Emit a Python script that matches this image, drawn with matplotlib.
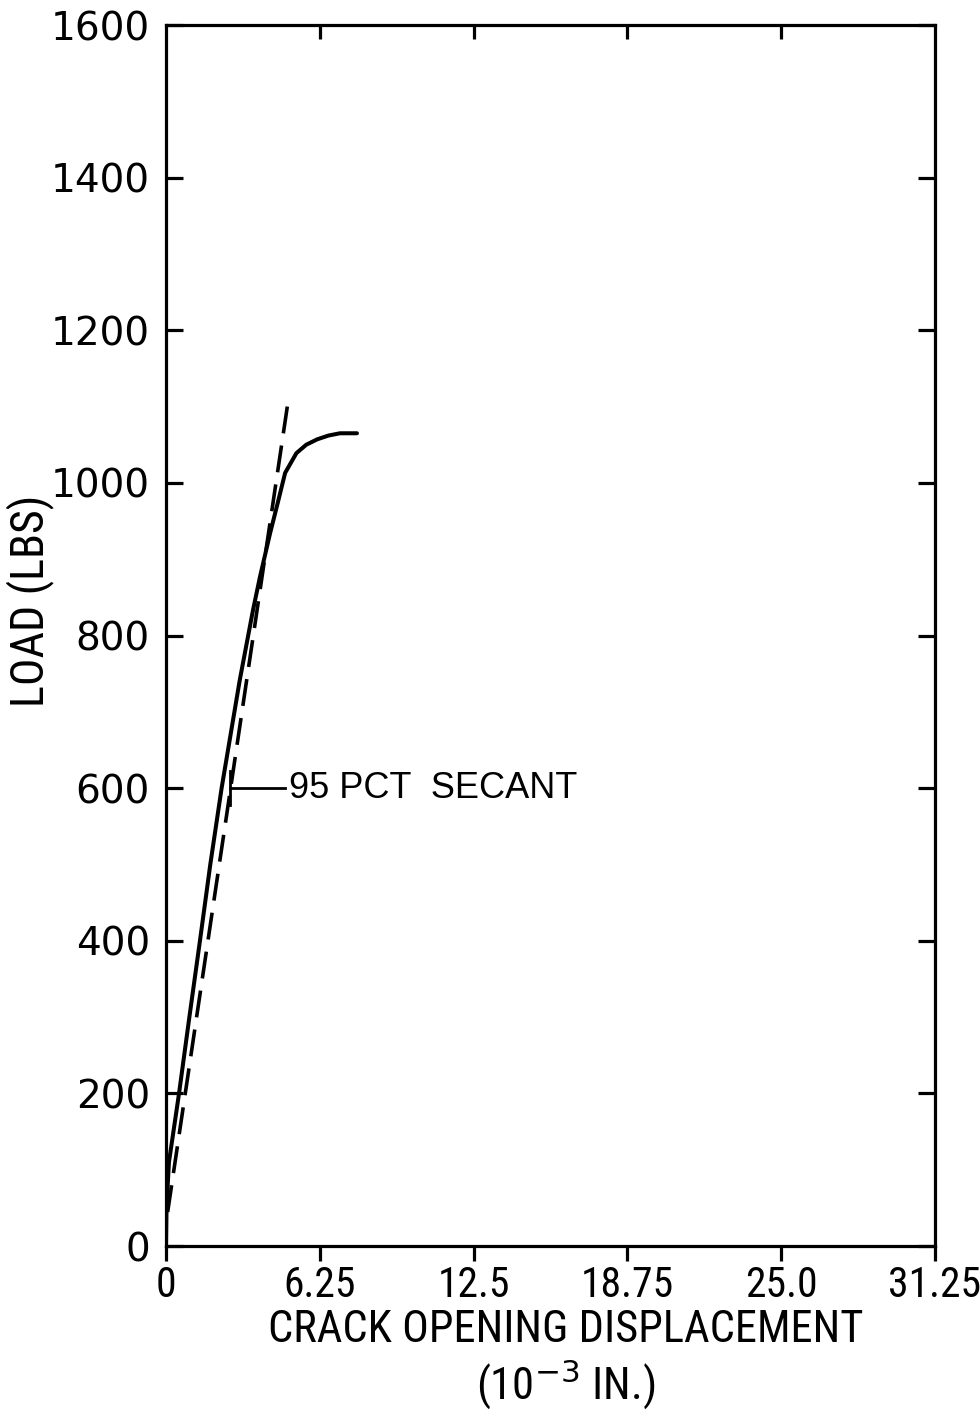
import matplotlib
matplotlib.use("Agg")
import matplotlib.pyplot as plt
from matplotlib import font_manager

# ---- data ----
cod_curve = [0.0, 0.02, 0.12, 0.53, 0.95, 1.38, 1.80, 2.26, 2.65, 3.00, 3.54, 3.82,
             4.23, 4.55, 4.84, 5.30, 5.70, 6.14, 6.60, 7.07, 7.76]
load_curve = [0, 50, 110, 200, 300, 400, 500, 600, 675, 742, 834, 877,
              934, 975, 1013, 1039, 1050, 1057, 1062, 1065, 1065]

cod_secant = [0.0, 4.93]
load_secant = [30, 1100]

x_ticks = [0, 6.25, 12.5, 18.75, 25.0, 31.25]
x_ticklabels = ["0", "6.25", "12.5", "18.75", "25.0", "31.25"]
y_ticks = [0, 200, 400, 600, 800, 1000, 1200, 1400, 1600]
y_ticklabels = ["0", "200", "400", "600", "800", "1000", "1200", "1400", "1600"]

secant_label = "95 PCT  SECANT"
label_load = 600
xlabel_1 = "CRACK OPENING DISPLACEMENT"
xlabel_2 = r"(10$^{-3}$ IN.)"
ylabel = "LOAD (LBS)"


def pick_font():
    names = {f.name for f in font_manager.fontManager.ttflist}
    for cand in ["Liberation Sans Narrow", "DejaVu Sans Condensed", "Roboto Condensed",
                 "Open Sans Condensed", "Noto Sans Condensed", "Arial Narrow"]:
        if cand in names:
            return cand, 1.0
    # no condensed family: use Liberation Sans at a reduced size
    return "Liberation Sans", 0.84


narrow_name, scale = pick_font()
narrow = [narrow_name, "DejaVu Sans"]

# ---- figure ----
W, H = 980, 1420
fig = plt.figure(figsize=(W / 100, H / 100), dpi=100)
L, R, T, B = 166, 935, 25, 1246
ax = fig.add_axes([L / W, 1 - B / H, (R - L) / W, (B - T) / H])

ax.plot(cod_curve, load_curve, color="black", lw=2.9, solid_capstyle="round")
# drawn from the top end so that the pattern ends on a dash at the top
ax.plot(cod_secant[::-1], load_secant[::-1], color="black", lw=2.6,
        linestyle=(0, (7.5, 3.4)))

ax.set_xlim(0, 31.25)
ax.set_ylim(0, 1600)

for s in ax.spines.values():
    s.set_linewidth(2.3)

ax.set_xticks(x_ticks)
ax.set_xticklabels(x_ticklabels, family=narrow, fontsize=30 * scale)
ax.set_yticks(y_ticks)
ax.set_yticklabels(y_ticklabels, family="DejaVu Sans", fontsize=28)

ax.tick_params(axis="x", which="both", bottom=True, top=False, direction="out",
               length=11, width=2.3, pad=3)
ax.tick_params(axis="y", which="both", left=True, right=True, direction="in",
               length=12, width=2.3, pad=11.5)

# top inner ticks (interior positions only)
sec = ax.secondary_xaxis("top")
sec.set_xticks(x_ticks[1:-1])
sec.set_xticklabels([])
sec.tick_params(direction="in", length=10, width=2.3)
sec.spines["top"].set_visible(False)

# label leader for the secant line
xt = 2.6
ax.plot([xt, xt], [label_load - 22, label_load + 22], color="black", lw=2.0)
ax.plot([xt, 4.85], [label_load, label_load], color="black", lw=2.0)
ax.text(5.0, label_load, secant_label, family=["Liberation Sans", "DejaVu Sans"],
        fontsize=26, va="center", ha="left")

fig.text(566 / W, 1 - 1330 / H, xlabel_1, family=narrow, fontsize=32 * scale,
         ha="center", va="center")
fig.text(566 / W, 1 - 1385 / H, xlabel_2, family=narrow, fontsize=32 * scale,
         ha="center", va="center")
fig.text(30 / W, 1 - 601 / H, ylabel, family=narrow, fontsize=33 * scale,
         ha="center", va="center", rotation=90)

fig.savefig("out.png", dpi=100)
